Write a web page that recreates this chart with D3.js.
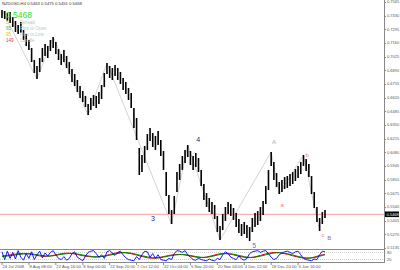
<!DOCTYPE html>
<html>
<head>
<meta charset="utf-8">
<script src="https://cdn.jsdelivr.net/npm/d3@7"></script>
<style>
  body { margin: 0; background: #fff; }
  svg { display: block; font-family: "Liberation Sans", Arial, sans-serif; }
</style>
</head>
<body>
<div id="chartArea"></div>
<script>
// NZDUSD H4 - one high/low pair per trading day
const high = [0.7486,0.7476,0.7457,0.7466,0.7417,0.7378,0.7338,0.7368,0.7289,0.7249,
  0.7190,0.7111,0.6992,0.6933,0.7012,0.7111,0.7150,0.7131,0.7190,0.7219,
  0.7170,0.7101,0.7051,0.7091,0.7032,0.6972,0.6903,0.6854,0.6795,0.6735,
  0.6686,0.6637,0.6558,0.6617,0.6646,0.6637,0.6676,0.6745,0.6864,0.6963,
  0.6933,0.6913,0.6943,0.6913,0.6874,0.6814,0.6775,0.6716,0.6666,0.6518,
  0.6419,0.6123,0.6054,0.6143,0.6261,0.6320,0.6271,0.6241,0.6291,0.6202,
  0.6093,0.5886,0.5658,0.5510,0.5649,0.5886,0.5965,0.6044,0.6103,0.6152,
  0.6093,0.6044,0.6073,0.6024,0.5905,0.5767,0.5678,0.5629,0.5589,0.5560,
  0.5451,0.5352,0.5471,0.5540,0.5589,0.5570,0.5530,0.5481,0.5421,0.5372,
  0.5392,0.5362,0.5342,0.5431,0.5481,0.5500,0.5540,0.5599,0.5747,0.5905,
  0.6083,0.5985,0.5876,0.5787,0.5807,0.5836,0.5846,0.5866,0.5886,0.5915,
  0.5945,0.5985,0.6054,0.6014,0.5965,0.5846,0.5688,0.5540,0.5431,0.5490,
  0.5510];
const low = [0.7407,0.7397,0.7378,0.7358,0.7318,0.7269,0.7249,0.7259,0.7190,0.7130,
  0.7091,0.6972,0.6864,0.6805,0.6874,0.6972,0.7032,0.7012,0.7081,0.7111,
  0.7052,0.6992,0.6943,0.6972,0.6913,0.6854,0.6775,0.6735,0.6676,0.6617,
  0.6577,0.6528,0.6449,0.6498,0.6538,0.6518,0.6558,0.6607,0.6725,0.6854,
  0.6814,0.6795,0.6834,0.6795,0.6755,0.6696,0.6656,0.6597,0.6518,0.6320,
  0.6202,0.5856,0.5886,0.5975,0.6103,0.6192,0.6133,0.6103,0.6152,0.6044,
  0.5906,0.5649,0.5471,0.5372,0.5471,0.5688,0.5807,0.5906,0.5975,0.6034,
  0.5955,0.5906,0.5935,0.5886,0.5747,0.5609,0.5540,0.5490,0.5471,0.5421,
  0.5293,0.5214,0.5313,0.5402,0.5471,0.5451,0.5412,0.5342,0.5283,0.5253,
  0.5273,0.5234,0.5204,0.5293,0.5342,0.5362,0.5402,0.5461,0.5569,0.5708,
  0.5945,0.5807,0.5737,0.5668,0.5688,0.5718,0.5728,0.5747,0.5767,0.5797,
  0.5826,0.5866,0.5945,0.5896,0.5836,0.5668,0.5530,0.5392,0.5303,0.5372,
  0.5431];

// zigzag pivots (bar index, price)
const zzIdx = [0, 13, 19, 32, 39, 63, 69, 81, 100, 103, 112, 118];
const zzPrice = [0.7486, 0.6805, 0.7219, 0.6449, 0.6963, 0.5372, 0.6152, 0.5214, 0.6083, 0.5668, 0.6054, 0.5303];

// wave labels
const waveText = ["3", "4", "5", "A", "a", "b", "c", "B"];
const waveIdx = [56.1, 72.9, 93.7, 101.1, 104.1, 113.4, 119.3, 121.6];
const wavePrice = [0.5421, 0.6202, 0.5155, 0.6182, 0.5560, 0.6054, 0.5263, 0.5234];
const waveColor = ["#1c1ca8", "#1c1ca8", "#6a6ad8", "#a8a8a8", "#f08080", "#f08080", "#f08080", "#7878c8"];

const lastPrice = 0.5468;
const priceTicks = d3.range(19).map(i => +(0.7565 - i * 0.0135).toFixed(4));

const dateIdx = [0, 10, 20, 30, 40, 50, 60, 70, 80, 90, 100, 110];
const dateLabels = ["24 Jul 2008", "8 Aug 08:00", "22 Aug 16:00", "8 Sep 00:00", "22 Sep 20:00",
  "7 Oct 12:00", "22 Oct 04:00", "5 Nov 20:00", "20 Nov 04:00", "4 Dec 12:00", "18 Dec 20:00", "5 Jan 16:00"];

// stochastic-like subwindow
const stochBlue = [85,20,90,30,80,25,95,40,15,70,
  30,85,20,60,90,35,75,50,80,95,
  60,30,20,45,15,30,70,85,40,25,
  10,50,80,90,95,70,40,60,30,85,
  95,75,55,80,90,60,35,20,15,10,
  45,20,60,90,85,40,70,30,60,20,
  15,10,30,20,70,95,90,80,95,60,
  40,20,15,30,20,15,10,25,15,10,
  30,20,60,85,70,40,30,20,50,25,
  15,30,70,85,90,95,80,90,95,70,
  40,20,30,60,75,85,90,80,70,85,
  90,60,30,20,15,10,25,20,60,90,
  85];
const stochRed = [50,55,62,70,72,68,60,50,45,50, 60,70,75,72,62,52,45,40,42,50,
  62,75,80,78,70,58,45,35,30,35, 45,55,62,65,60,50,40,35,40,52,
  65,72,70,60,48,38,35,42,55,68, 78,80,75,65,52,40,32,30,40,55, 65];
const stochGreen = [45,50,55,62,68,70,65,57,50,48, 55,64,70,73,68,58,50,44,42,46,
  56,68,76,79,74,64,52,42,34,33, 40,50,58,63,62,55,45,38,38,46,
  58,68,71,65,55,44,37,39,48,60, 72,78,77,70,58,46,36,31,35,48, 60];
const stochLevels = [80, 20];

const W = 400, H = 270;
const svg = d3.select("#chartArea").append("svg")
  .attr("width", W)
  .attr("height", H);

const axisX = 384;
const x = d3.scaleLinear().domain([0, 120]).range([2, 325]);
const y = d3.scaleLinear().domain([0.5135, 0.7565]).range([248, 2]);
const ys = d3.scaleLinear().domain([0, 100]).range([262, 250]);

// frames
svg.append("line").attr("x1", axisX + 0.5).attr("x2", axisX + 0.5).attr("y1", 0).attr("y2", 263)
  .attr("stroke", "#888");
svg.append("line").attr("x1", 0).attr("x2", axisX).attr("y1", 249.5).attr("y2", 249.5).attr("stroke", "#888");
svg.append("line").attr("x1", 0).attr("x2", axisX).attr("y1", 262.5).attr("y2", 262.5).attr("stroke", "#888");

// price axis
const ax = svg.append("g").attr("font-size", "4px").attr("fill", "#555");
priceTicks.forEach(p => {
  ax.append("line").attr("x1", axisX).attr("x2", axisX + 2)
    .attr("y1", Math.round(y(p)) + 0.5).attr("y2", Math.round(y(p)) + 0.5).attr("stroke", "#888");
  ax.append("text").attr("x", axisX + 3).attr("y", y(p)).attr("dy", "0.35em").text(p.toFixed(4));
});

// current price line
svg.append("line").attr("x1", 0).attr("x2", axisX).attr("y1", y(lastPrice)).attr("y2", y(lastPrice))
  .attr("stroke", "#ff9a9a").attr("stroke-width", 1);
svg.append("rect").attr("x", axisX + 1).attr("y", y(lastPrice) - 2.8).attr("width", 14).attr("height", 5.6).attr("fill", "#000");
svg.append("text").attr("x", axisX + 2.5).attr("y", y(lastPrice)).attr("dy", "0.35em")
  .attr("font-size", "4px").attr("fill", "#fff").text(lastPrice.toFixed(4));

// zigzag
const zz = zzIdx.map((d, i) => [x(d), y(zzPrice[i])]);
svg.append("path").attr("d", d3.line()(zz)).attr("fill", "none").attr("stroke", "#c8c8c8").attr("stroke-width", 0.8);

// bars
svg.selectAll("line.bar").data(high).enter().append("line")
  .attr("class", "bar")
  .attr("x1", (d, i) => x(i))
  .attr("x2", (d, i) => x(i))
  .attr("y1", d => y(d))
  .attr("y2", (d, i) => y(low[i]))
  .attr("stroke", "#000")
  .attr("stroke-width", 1.6);

// wave labels
svg.selectAll("text.wave").data(waveText).enter().append("text")
  .attr("class", "wave")
  .attr("x", (d, i) => x(waveIdx[i]))
  .attr("y", (d, i) => y(wavePrice[i]))
  .attr("dy", "0.35em")
  .attr("text-anchor", "middle")
  .attr("font-size", (d, i) => i < 3 ? "7px" : "6px")
  .attr("fill", (d, i) => waveColor[i])
  .text(d => d);

// stochastic levels
stochLevels.forEach(l => {
  svg.append("line").attr("x1", 0).attr("x2", axisX).attr("y1", ys(l)).attr("y2", ys(l))
    .attr("stroke", "#aaa").attr("stroke-dasharray", "1,1").attr("stroke-width", 0.6);
  svg.append("text").attr("x", axisX + 3).attr("y", ys(l)).attr("dy", "0.35em")
    .attr("font-size", "4px").attr("fill", "#555").text(l);
});
svg.append("path").attr("d", d3.line().x((d, i) => x(i * 2)).y(d => ys(d)).curve(d3.curveBasis)(stochRed))
  .attr("fill", "none").attr("stroke", "#e00000").attr("stroke-width", 1);
svg.append("path").attr("d", d3.line().x((d, i) => x(i * 2)).y(d => ys(d)).curve(d3.curveBasis)(stochGreen))
  .attr("fill", "none").attr("stroke", "#008000").attr("stroke-width", 1);
svg.append("path").attr("d", d3.line().x((d, i) => x(i)).y(d => ys(d))(stochBlue))
  .attr("fill", "none").attr("stroke", "#0000ff").attr("stroke-width", 0.9);

// date axis
const dg = svg.append("g").attr("font-size", "4.2px").attr("fill", "#555");
dateIdx.forEach((d, i) => {
  dg.append("line").attr("x1", x(d)).attr("x2", x(d)).attr("y1", 262).attr("y2", 265).attr("stroke", "#888");
  dg.append("text").attr("x", x(d) + 0.5).attr("y", 268).text(dateLabels[i]);
});

// header text
svg.append("text").attr("x", 2).attr("y", 5).attr("font-size", "4.2px").attr("fill", "#333")
  .text("NZDUSD,H4  0.5463 0.5475 0.5451 0.5468");
svg.append("text").attr("x", 6).attr("y", 17.5).attr("font-size", "8.5px").attr("fill", "#33dd33")
  .text(lastPrice.toFixed(4));
const legendNum = ["5", "65", "95", "149"];
const legendText = ["Spread", "Pips to Open", "Pips to Low", "Candle"];
const legendColor = ["#e8c000", "#33bb33", "#e8c000", "#ee3333"];
legendNum.forEach((n, i) => {
  svg.append("text").attr("x", 6).attr("y", 24 + i * 6).attr("font-size", "4.6px").attr("fill", legendColor[i]).text(n);
  svg.append("text").attr("x", 20).attr("y", 24 + i * 6).attr("font-size", "4.6px").attr("fill", "#c4c4c4").text(legendText[i]);
});
</script>
</body>
</html>
